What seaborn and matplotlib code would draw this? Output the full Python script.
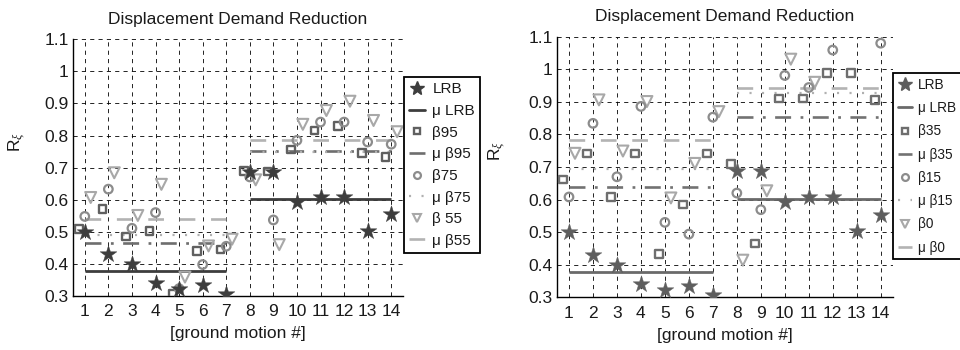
import numpy as np
import pandas as pd
import matplotlib
matplotlib.use("Agg")
import matplotlib.pyplot as plt
from matplotlib.lines import Line2D
import seaborn as sns

# ---------------- data ----------------
ground_motion = list(range(1, 15))
xtick_labels = [str(i) for i in ground_motion]
ytick_values = [0.3, 0.4, 0.5, 0.6, 0.7, 0.8, 0.9, 1.0, 1.1]
ytick_labels = ["0.3", "0.4", "0.5", "0.6", "0.7", "0.8", "0.9", "1", "1.1"]

lrb = [0.50, 0.431, 0.40, 0.342, 0.323, 0.335, 0.307,
       0.688, 0.688, 0.593, 0.607, 0.607, 0.503, 0.554]

# left panel
beta95 = [0.508, 0.572, 0.485, 0.503, 0.307, 0.44, 0.445,
          0.69, 0.688, 0.757, 0.816, 0.829, 0.745, 0.734]
beta75 = [0.548, 0.633, 0.511, 0.56, 0.323, 0.398, 0.455,
          0.671, 0.537, 0.785, 0.842, 0.842, 0.78, 0.773]
beta55 = [0.607, 0.684, 0.551, 0.648, 0.359, 0.456, 0.477,
          0.662, 0.46, 0.835, 0.878, 0.907, 0.847, 0.812]

# right panel (nan = above the 1.1 axis limit)
beta35 = [0.662, 0.742, 0.608, 0.741, 0.432, 0.585, 0.741,
          0.709, 0.465, 0.910, 0.910, 0.989, 0.989, 0.905]
beta15 = [0.608, 0.834, 0.67, 0.886, 0.53, 0.494, 0.853,
          0.62, 0.569, 0.981, 0.944, 1.059, np.nan, 1.08]
beta0 = [0.742, 0.906, 0.749, 0.901, 0.605, 0.711, 0.87,
         0.414, 0.627, 1.031, 0.96, np.nan, np.nan, np.nan]

# group means (ground motions 1-7 and 8-14)
mean_lrb = [0.377, 0.603]
mean_beta95 = [0.464, 0.752]
mean_beta75 = [0.489, 0.748]
mean_beta55 = [0.539, 0.785]
mean_beta35 = [0.639, 0.852]
mean_beta15 = [0.693, 0.926]
mean_beta0 = [0.782, 0.944]
groups = [(1, 7), (8, 14)]

# ---------------- style ----------------
sns.set_theme(style="white")
plt.rcParams["font.family"] = ["Liberation Sans", "DejaVu Sans"]
plt.rcParams["lines.scale_dashes"] = False
plt.rcParams["mathtext.fontset"] = "custom"
plt.rcParams["mathtext.rm"] = "Liberation Sans"
plt.rcParams["mathtext.it"] = "Liberation Serif:italic"

fig = plt.figure(figsize=(9.6, 3.5), dpi=100)
W, H = 960, 350
FS = 12.5


def add_ax(l, t, r, b):
    return fig.add_axes([l / W, 1 - b / H, (r - l) / W, (b - t) / H])


ax_l = add_ax(73, 39.3, 403, 296)
ax_r = add_ax(557, 36.7, 892.7, 297.3)

LS_DASHDOT = (0, (11.5, 6.8, 2.0, 6.8))
LS_DOT = (0, (1.5, 7.5))
LS_DASH = (0, (11.3, 11.3))


def draw_panel(ax, series, ylabel_xy, legend_anchor, leg_fs, leg_ls):
    gm = np.array(ground_motion)
    handles = []
    for s in series:
        df = pd.DataFrame({"x": gm + s["off"], "y": s["vals"]})
        kw = dict(marker=s["marker"], s=s["s"], ax=ax, zorder=s["z"], legend=False)
        if s["filled"]:
            sns.scatterplot(data=df, x="x", y="y", color=s["color"],
                            edgecolor=s["color"], linewidth=0.3, **kw)
        else:
            sns.scatterplot(data=df, x="x", y="y", facecolor="none",
                            edgecolor=s["color"], linewidth=s["mew"], **kw)
        for (a, b), m in zip(groups, s["means"]):
            ax.plot([a, b], [m, m], color=s["lcolor"], lw=s["lw"],
                    linestyle=s["ls"], zorder=2, solid_capstyle="butt",
                    dash_capstyle="butt")
        if s["filled"]:
            handles.append(Line2D([], [], linestyle="none", marker=s["marker"],
                                  markersize=np.sqrt(s["s"]) * 0.8,
                                  color=s["color"], label=s["label"]))
        else:
            handles.append(Line2D([], [], linestyle="none", marker=s["marker"],
                                  markersize=np.sqrt(s["s"]) * 0.8,
                                  markerfacecolor="none",
                                  markeredgecolor=s["color"],
                                  markeredgewidth=s["mew"], label=s["label"]))
        handles.append(Line2D([], [], color=s["lcolor"], lw=s["lw"],
                              linestyle=s["ls"], label=s["mlabel"]))

    ax.set_xlim(0.5, 14.5)
    ax.set_ylim(0.3, 1.1)
    ax.set_xticks(ground_motion)
    ax.set_xticklabels(xtick_labels)
    ax.set_yticks(ytick_values)
    ax.set_yticklabels(ytick_labels)
    ax.tick_params(axis="both", labelsize=FS, colors="#1a1a1a",
                   direction="in", length=3, width=0.6, pad=3)
    ax.tick_params(axis="x", pad=6)
    ax.grid(True, color="black", linestyle=(0, (3.0, 3.0)), linewidth=0.6)
    ax.set_axisbelow(True)
    for sp in ["top", "right"]:
        ax.spines[sp].set_visible(False)
    for sp in ["left", "bottom"]:
        ax.spines[sp].set_color("black")
        ax.spines[sp].set_linewidth(1.0)
    ax.set_title("Displacement Demand Reduction", fontsize=FS,
                 color="#1a1a1a", pad=11)
    ax.set_xlabel("[ground motion #]", fontsize=FS, color="#1a1a1a", labelpad=5)
    ax.set_ylabel(r"R$_{\xi}$", fontsize=FS, color="#1a1a1a")
    ax.yaxis.set_label_coords(*ylabel_xy)

    leg = fig.legend(handles=handles, loc="upper left",
                     bbox_to_anchor=legend_anchor,
                     bbox_transform=fig.transFigure, borderaxespad=0,
                     frameon=True, fancybox=False, fontsize=leg_fs,
                     handlelength=1.05, handletextpad=0.45,
                     labelspacing=leg_ls, borderpad=0.35)
    leg.get_frame().set_edgecolor("black")
    leg.get_frame().set_linewidth(1.3)
    leg.get_frame().set_alpha(1)
    for t in leg.get_texts():
        t.set_color("#1a1a1a")


left_series = [
    dict(vals=lrb, means=mean_lrb, off=0.0, marker="*", s=160, filled=True,
         color="#3d3d3d", lcolor="#3d3d3d", lw=2.0, ls="-", mew=0, z=5,
         label="LRB", mlabel="μ LRB"),
    dict(vals=beta95, means=mean_beta95, off=-0.25, marker="s", s=30, filled=False,
         color="#606060", lcolor="#6e6e6e", lw=1.9, ls=LS_DASHDOT, mew=1.7, z=4,
         label="β95", mlabel="μ β95"),
    dict(vals=beta75, means=mean_beta75, off=0.0, marker="o", s=38, filled=False,
         color="#8c8c8c", lcolor="#b0b0b0", lw=1.6, ls=LS_DOT, mew=1.6, z=4,
         label="β75", mlabel="μ β75"),
    dict(vals=beta55, means=mean_beta55, off=0.25, marker="v", s=62, filled=False,
         color="#a8a8a8", lcolor="#b3b3b3", lw=1.9, ls=LS_DASH, mew=1.5, z=3,
         label="β 55", mlabel="μ β55"),
]

right_series = [
    dict(vals=lrb, means=mean_lrb, off=0.0, marker="*", s=160, filled=True,
         color="#5e5e5e", lcolor="#6a6a6a", lw=2.0, ls="-", mew=0, z=5,
         label="LRB", mlabel="μ LRB"),
    dict(vals=beta35, means=mean_beta35, off=-0.25, marker="s", s=30, filled=False,
         color="#6e6e6e", lcolor="#727272", lw=1.9, ls=LS_DASHDOT, mew=1.7, z=4,
         label="β35", mlabel="μ β35"),
    dict(vals=beta15, means=mean_beta15, off=0.0, marker="o", s=38, filled=False,
         color="#8c8c8c", lcolor="#b0b0b0", lw=1.6, ls=LS_DOT, mew=1.6, z=4,
         label="β15", mlabel="μ β15"),
    dict(vals=beta0, means=mean_beta0, off=0.25, marker="v", s=62, filled=False,
         color="#a8a8a8", lcolor="#b3b3b3", lw=1.9, ls=LS_DASH, mew=1.5, z=3,
         label="β0", mlabel="μ β0"),
]

draw_panel(ax_l, left_series, (-0.135, 0.6), (404 / W, 1 - 77 / H), 11, 0.5)
draw_panel(ax_r, right_series, (-0.145, 0.56), (893 / W, 1 - 73 / H), 9.8, 0.68)

fig.savefig("out.png", dpi=100)
